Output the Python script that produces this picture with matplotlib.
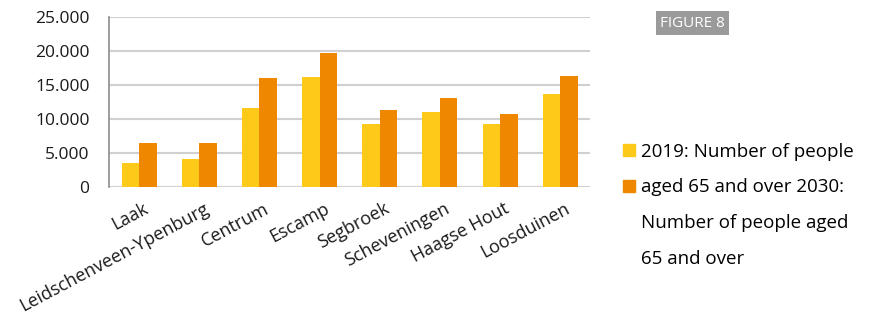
import matplotlib.pyplot as plt
import matplotlib.patches as mpatches
import matplotlib.transforms as mtransforms
from matplotlib.ticker import FuncFormatter
import numpy as np

plt.rcParams['font.family'] = ['Open Sans', 'DejaVu Sans']

districts = ["Laak", "Leidschenveen-Ypenburg", "Centrum", "Escamp", "Segbroek",
             "Scheveningen", "Haagse Hout", "Loosduinen"]
people_2019 = [3500, 4100, 11600, 16200, 9300, 11050, 9300, 13700]
people_2030 = [6500, 6500, 16100, 19700, 11300, 13100, 10750, 16400]

legend_lines = ["2019: Number of people", "aged 65 and over 2030:",
                "Number of people aged", "65 and over"]

yellow = "#FDCA1A"
orange = "#F08700"

fig = plt.figure(figsize=(8.72, 3.21), dpi=100)
ax = fig.add_axes([0.125, 0.417, 0.552, 0.530])

x = np.arange(len(districts))
w = 0.29
ax.bar(x - w / 2, people_2019, w, color=yellow, zorder=3)
ax.bar(x + w / 2, people_2030, w, color=orange, zorder=3)

ax.set_xlim(-0.5, len(districts) - 0.5)
ax.set_ylim(0, 25000)
ax.set_yticks(range(0, 25001, 5000))
ax.yaxis.set_major_formatter(FuncFormatter(lambda v, p: f"{int(v):,}".replace(",", ".")))
ax.yaxis.grid(True, color="#d0d0d0", linewidth=1.5, zorder=0)

for s in ["top", "right", "bottom"]:
    ax.spines[s].set_visible(False)
ax.spines["left"].set_color("#8c8c8c")
ax.spines["left"].set_linewidth(1.2)

ax.tick_params(axis="y", length=0, pad=14, labelsize=12.5, colors="#1a1a1a")
ax.tick_params(axis="x", length=0, pad=9, labelsize=13, colors="#1a1a1a")
ax.set_xticks(x)
ax.set_xticklabels(districts, rotation=28, ha="right", rotation_mode="anchor")
# nudge the rotated labels a little to the right, like the original
shift = mtransforms.ScaledTranslation(4 / 100, 0, fig.dpi_scale_trans)
for lbl in ax.get_xticklabels():
    lbl.set_transform(lbl.get_transform() + shift)

handles = [mpatches.Patch(color=yellow), mpatches.Patch(color=orange),
           mpatches.Patch(color="none"), mpatches.Patch(color="none")]
fig.legend(handles, legend_lines, loc="upper left", bbox_to_anchor=(0.704, 0.585),
           frameon=False, fontsize=13.5, handlelength=0.62, handleheight=0.62,
           handletextpad=0.3, labelspacing=0.95, borderpad=0)

fig.text(0.794, 0.928, "FIGURE 8", color="white", fontsize=11, ha="center", va="center",
         bbox=dict(facecolor="#9a9a9a", edgecolor="none", boxstyle="square,pad=0.28"))

fig.savefig("out.png", dpi=100)
